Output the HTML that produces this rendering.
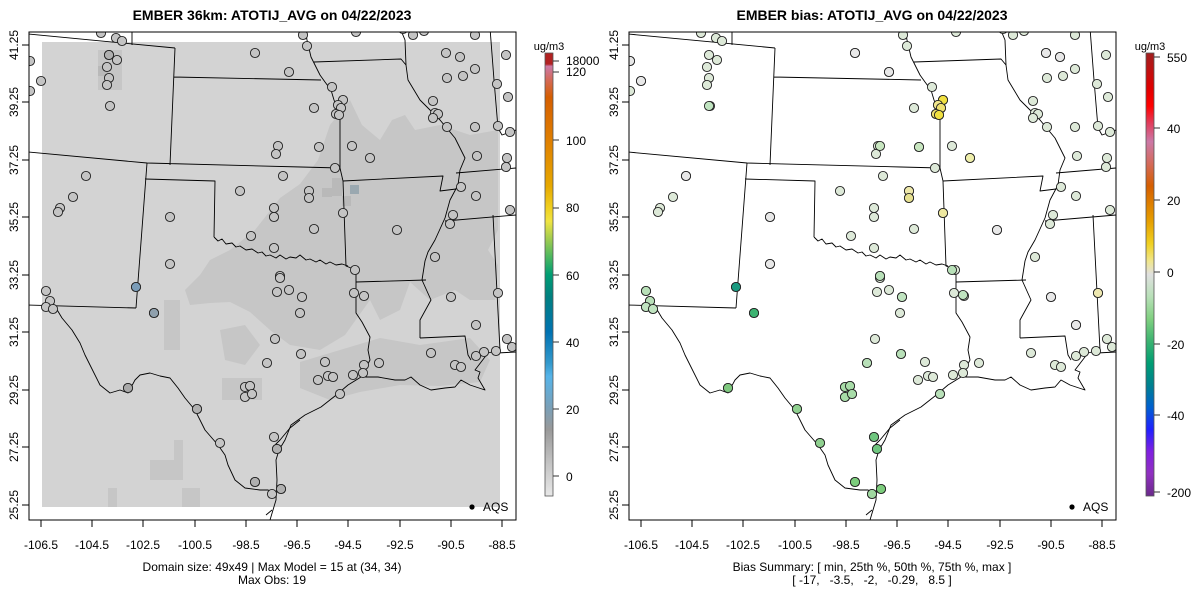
<!DOCTYPE html>
<html><head><meta charset="utf-8"><style>
html,body{margin:0;padding:0;background:#fff}
svg{display:block;font-family:"Liberation Sans",sans-serif}
circle{r:4.6px}
circle.dot{r:2.6px}
</style></head><body>
<svg width="1200" height="600" viewBox="0 0 1200 600" xmlns="http://www.w3.org/2000/svg">
<defs>
<linearGradient id="cb1" x1="0" y1="0" x2="0" y2="1">
<stop offset="0" stop-color="#b22222"/><stop offset="0.025" stop-color="#b22222"/>
<stop offset="0.03" stop-color="#cc79a7"/><stop offset="0.06" stop-color="#d46a5a"/>
<stop offset="0.1" stop-color="#d55e00"/><stop offset="0.2" stop-color="#e08000"/>
<stop offset="0.3" stop-color="#e6a800"/><stop offset="0.35" stop-color="#f0d020"/>
<stop offset="0.38" stop-color="#f0e442"/><stop offset="0.42" stop-color="#a0cc50"/>
<stop offset="0.46" stop-color="#4db860"/><stop offset="0.5" stop-color="#009e73"/>
<stop offset="0.55" stop-color="#008080"/><stop offset="0.63" stop-color="#0072b2"/>
<stop offset="0.7" stop-color="#3399cc"/><stop offset="0.73" stop-color="#56b4e9"/>
<stop offset="0.8" stop-color="#7aa0b8"/><stop offset="0.85" stop-color="#999999"/>
<stop offset="0.92" stop-color="#c0c0c0"/><stop offset="1" stop-color="#e8e8e8"/>
</linearGradient>
<linearGradient id="cb2" x1="0" y1="0" x2="0" y2="1">
<stop offset="0" stop-color="#a02020"/><stop offset="0.08" stop-color="#e00000"/>
<stop offset="0.12" stop-color="#ff0000"/><stop offset="0.16" stop-color="#e04060"/>
<stop offset="0.2" stop-color="#cc79a7"/><stop offset="0.25" stop-color="#d46a5a"/>
<stop offset="0.3" stop-color="#d55e00"/><stop offset="0.38" stop-color="#e69f00"/>
<stop offset="0.43" stop-color="#f0d020"/><stop offset="0.47" stop-color="#f0e68c"/>
<stop offset="0.5" stop-color="#e0e0e0"/><stop offset="0.55" stop-color="#b8e0b8"/>
<stop offset="0.6" stop-color="#80d080"/><stop offset="0.65" stop-color="#3cb371"/>
<stop offset="0.7" stop-color="#009e73"/><stop offset="0.75" stop-color="#008090"/>
<stop offset="0.8" stop-color="#0060d0"/><stop offset="0.85" stop-color="#2020ff"/>
<stop offset="0.9" stop-color="#8020e0"/><stop offset="0.95" stop-color="#9030c0"/>
<stop offset="1" stop-color="#6a2a8a"/>
</linearGradient>
<clipPath id="clipL"><rect x="29" y="32" width="487" height="488"/></clipPath>
<g id="borders" fill="none" stroke="#000" stroke-width="0.9" stroke-linejoin="round">
<path d="M28,34 L175,48 M132,28 L132,45 M175,48 L170,165 M174,77 L321,80 M28,152 L147,163 L301,167 L340,168"/>
<path d="M147,163 L136,308 M28,305 L136,308 M145,179 L215,181 L214,237"/>
<path d="M214,237 L218,241 L222,239 L226,244 L232,243 L236,247 L240,246 L246,250 L252,249 L258,253 L262,252 L266,256 L270,255 L276,258 L280,255 L286,259 L290,257 L296,258 L300,255 L306,260 L310,259 L316,262 L320,260 L326,264 L330,262 L336,265 L342,264 L348,266"/>
<path d="M340,168 L343,181 L346,266 L356,270 L356,313 L362,322 L370,337 L368,350 L370,360 L361,377"/>
<path d="M305,28 L307,40 L311,57 L320,75 L325,82 L331,90 L334,100 L338,110 L340,118 L340,168"/>
<path d="M314,62 L401,59 L406,65 M343,181 L443,176 L440,191 L456,189"/>
<path d="M400,28 L405,40 L406,65 L408,80 L420,100 L428,108 L440,120 L455,138 L465,158 L460,170 L458,185 L450,200 L445,218 L435,240 L428,252 L425,261 L422,280 L431,300 L420,320 L420,338"/>
<path d="M356,282 L426,280 M420,338 L465,336 L468,355 L471,360 M445,221 L516,215 M456,173 L516,168 M493,215 L500,350 M497,353 L516,352"/>
<path d="M490,28 L494,80 L498,128 L502,135 L516,130"/>
<path d="M53,303 L62,318 L72,330 L80,343 L85,355 L90,365 L100,385 L110,393 L120,390 L128,393 L135,380 L140,375 L150,373 L160,376 L170,378 L178,388 L185,398 L195,410 L205,430 L218,445 L225,455 L228,465 L235,480 L245,488 L260,490 L268,490 L275,492"/>
<path d="M270,520 L276,500 L277,480 L276,460 L279,450 L285,440 L291,425 L305,415 L321,407 L335,396 L348,385 L361,377 L378,377 L395,380 L405,380 L411,377 L420,385 L431,390 L445,388 L455,387 L461,380 L470,385 L485,390 L478,378 L480,372 L475,370 L488,353 L500,350"/>
<path d="M273,447 L280,440 L290,428 L300,420 M266,515 L272,510"/>
</g>
<g id="stations" stroke="#222" stroke-width="0.9">
<circle cx="101" cy="33" r="5"/><circle cx="116" cy="38" r="5"/><circle cx="122" cy="41" r="5"/><circle cx="109" cy="55" r="5"/><circle cx="117" cy="60" r="5"/><circle cx="107" cy="67" r="5"/><circle cx="109" cy="78" r="5"/><circle cx="107" cy="85" r="5"/><circle cx="110" cy="106" r="5"/><circle cx="41" cy="81" r="5"/><circle cx="30" cy="61" r="5"/><circle cx="30" cy="91" r="5"/>
<circle cx="255" cy="53" r="5"/><circle cx="289" cy="72" r="5"/><circle cx="303" cy="35" r="5"/><circle cx="307" cy="46" r="5"/><circle cx="332" cy="87" r="5"/><circle cx="343" cy="100" r="5"/><circle cx="338" cy="105" r="5"/><circle cx="341" cy="108" r="5"/><circle cx="336" cy="114" r="5"/><circle cx="339" cy="115" r="5"/><circle cx="314" cy="108" r="5"/>
<circle cx="356" cy="32" r="5"/><circle cx="403" cy="29" r="5"/><circle cx="413" cy="35" r="5"/><circle cx="424" cy="31" r="5"/><circle cx="475" cy="35" r="5"/><circle cx="446" cy="53" r="5"/><circle cx="460" cy="57" r="5"/><circle cx="475" cy="69" r="5"/><circle cx="447" cy="78" r="5"/><circle cx="463" cy="76" r="5"/><circle cx="506" cy="55" r="5"/><circle cx="497" cy="84" r="5"/><circle cx="508" cy="97" r="5"/>
<circle cx="433" cy="101" r="5"/><circle cx="435" cy="113" r="5"/><circle cx="438" cy="114" r="5"/><circle cx="433" cy="118" r="5"/><circle cx="447" cy="127" r="5"/><circle cx="475" cy="127" r="5"/><circle cx="498" cy="126" r="5"/><circle cx="510" cy="132" r="5"/><circle cx="507" cy="158" r="5"/><circle cx="506" cy="167" r="5"/><circle cx="477" cy="156" r="5"/><circle cx="461" cy="187" r="5"/><circle cx="476" cy="196" r="5"/><circle cx="453" cy="215" r="5"/><circle cx="450" cy="224" r="5"/><circle cx="510" cy="210" r="5"/><circle cx="435" cy="257" r="5"/>
<circle cx="352" cy="146" r="5"/><circle cx="370" cy="158" r="5"/><circle cx="319" cy="147" r="5"/><circle cx="278" cy="146" r="5"/><circle cx="276" cy="154" r="5"/><circle cx="335" cy="168" r="5"/><circle cx="283" cy="176" r="5"/><circle cx="240" cy="191" r="5"/><circle cx="309" cy="191" r="5"/><circle cx="309" cy="198" r="5"/><circle cx="274" cy="208" r="5"/><circle cx="274" cy="217" r="5"/><circle cx="343" cy="213" r="5"/><circle cx="314" cy="229" r="5"/><circle cx="251" cy="236" r="5"/><circle cx="274" cy="248" r="5"/><circle cx="355" cy="270" r="5"/><circle cx="280" cy="276" r="5"/>
<circle cx="86" cy="176" r="5"/><circle cx="73" cy="197" r="5"/><circle cx="60" cy="208" r="5"/><circle cx="58" cy="212" r="5"/><circle cx="170" cy="217" r="5"/><circle cx="170" cy="264" r="5"/><circle cx="397" cy="230" r="5"/>
<circle cx="451" cy="297" r="5"/><circle cx="498" cy="293" r="5"/><circle cx="476" cy="325" r="5"/><circle cx="507" cy="339" r="5"/><circle cx="512" cy="347" r="5"/><circle cx="496" cy="351" r="5"/><circle cx="484" cy="352" r="5"/><circle cx="476" cy="356" r="5"/><circle cx="455" cy="365" r="5"/><circle cx="461" cy="367" r="5"/><circle cx="431" cy="353" r="5"/>
<circle cx="354" cy="293" r="5"/><circle cx="364" cy="296" r="5"/><circle cx="280" cy="278" r="5"/><circle cx="277" cy="292" r="5"/><circle cx="289" cy="290" r="5"/><circle cx="302" cy="297" r="5"/><circle cx="300" cy="313" r="5"/><circle cx="275" cy="339" r="5"/><circle cx="267" cy="363" r="5"/><circle cx="301" cy="354" r="5"/><circle cx="325" cy="362" r="5"/><circle cx="364" cy="365" r="5"/><circle cx="379" cy="363" r="5"/><circle cx="353" cy="375" r="5"/><circle cx="363" cy="373" r="5"/><circle cx="318" cy="380" r="5"/><circle cx="328" cy="376" r="5"/><circle cx="333" cy="377" r="5"/><circle cx="340" cy="394" r="5"/>
<circle cx="245" cy="387" r="5"/><circle cx="250" cy="386" r="5"/><circle cx="245" cy="397" r="5"/><circle cx="252" cy="394" r="5"/>
<circle cx="46" cy="291" r="5"/><circle cx="50" cy="301" r="5"/><circle cx="46" cy="307" r="5"/><circle cx="53" cy="309" r="5"/><circle cx="136" cy="287" r="5"/><circle cx="154" cy="313" r="5"/><circle cx="128" cy="388" r="5"/><circle cx="197" cy="409" r="5"/><circle cx="220" cy="443" r="5"/><circle cx="255" cy="482" r="5"/><circle cx="272" cy="494" r="5"/><circle cx="281" cy="489" r="5"/><circle cx="274" cy="437" r="5"/><circle cx="277" cy="449" r="5"/>
</g>
</defs>

<!-- LEFT PANEL -->
<text x="272" y="20" text-anchor="middle" font-size="14" font-weight="bold">EMBER 36km: ATOTIJ_AVG on 04/22/2023</text>
<g clip-path="url(#clipL)">
<rect x="42" y="42" width="458" height="465" fill="#d3d3d3"/>
<g fill="#c6c6c6">
<path d="M255,230 L280,198 L300,184 L318,160 L330,125 L350,100 L362,125 L380,140 L392,120 L405,115 L415,130 L440,125 L470,135 L498,130 L498,230 L488,250 L498,265 L495,300 L470,300 L455,290 L430,300 L410,282 L400,310 L380,320 L370,300 L345,335 L320,350 L290,345 L270,330 L250,312 L230,302 L210,303 L190,305 L185,290 L200,275 L210,260 L230,250 Z"/>
<path d="M300,362 L340,350 L380,338 L420,345 L470,338 L490,360 L480,382 L440,386 L400,385 L360,392 L330,400 L300,388 Z"/>
<path d="M220,330 L245,325 L260,345 L245,365 L225,360 Z"/>
<path d="M98,50 L122,50 L122,90 L98,90 Z"/>
<path d="M222,378 L262,378 L262,400 L222,400 Z"/>
<path d="M174,440 L183,440 L183,480 L150,480 L150,460 L174,460 Z"/>
<path d="M108,488 L117,488 L117,507 L108,507 Z M182,488 L200,488 L200,507 L182,507 Z"/>
<path d="M164,300 L180,300 L180,350 L164,350 Z"/>
</g>
<g fill="#b9b9b9"><rect x="332" y="178" width="10" height="18"/><rect x="322" y="188" width="10" height="9"/><rect x="342" y="196" width="9" height="10"/><rect x="98" y="66" width="10" height="10"/></g>
<rect x="350" y="185" width="9" height="9" fill="#9aa8b0"/>
<use href="#borders"/>
<use href="#stations" fill="#c4c4c4"/>
<g stroke="#222" stroke-width="0.9">
<circle cx="136" cy="287" r="5" fill="#7a9cb8"/><circle cx="154" cy="313" r="5" fill="#8fa0ad"/>
<circle cx="128" cy="388" r="5" fill="#a8a8a8"/><circle cx="197" cy="409" r="5" fill="#b0b0b0"/><circle cx="255" cy="482" r="5" fill="#b0b0b0"/><circle cx="281" cy="489" r="5" fill="#b0b0b0"/><circle cx="277" cy="449" r="5" fill="#b0b0b0"/><circle cx="109" cy="55" r="5" fill="#b0b0b0"/>
</g>
</g>
<rect x="29" y="32" width="487" height="488" fill="none" stroke="#000" stroke-width="1"/>
<circle class="dot" cx="472" cy="507" r="2.6" fill="#000"/><text x="483" y="511" font-size="12">AQS</text>
<g font-size="12" text-anchor="middle">
<g stroke="#000"><path d="M41,520V527M92,520V527M143,520V527M195,520V527M246,520V527M297,520V527M348,520V527M400,520V527M451,520V527M502,520V527"/>
<path d="M29,45H22M29,102H22M29,160H22M29,217H22M29,275H22M29,332H22M29,390H22M29,447H22M29,505H22"/></g>
<text x="41" y="549">-106.5</text><text x="92" y="549">-104.5</text><text x="143" y="549">-102.5</text><text x="195" y="549">-100.5</text><text x="246" y="549">-98.5</text><text x="297" y="549">-96.5</text><text x="348" y="549">-94.5</text><text x="400" y="549">-92.5</text><text x="451" y="549">-90.5</text><text x="502" y="549">-88.5</text>
<g transform="translate(14,0)">
<text transform="translate(0,45) rotate(-90)" y="4">41.25</text><text transform="translate(0,102) rotate(-90)" y="4">39.25</text><text transform="translate(0,160) rotate(-90)" y="4">37.25</text><text transform="translate(0,217) rotate(-90)" y="4">35.25</text><text transform="translate(0,275) rotate(-90)" y="4">33.25</text><text transform="translate(0,332) rotate(-90)" y="4">31.25</text><text transform="translate(0,390) rotate(-90)" y="4">29.25</text><text transform="translate(0,447) rotate(-90)" y="4">27.25</text><text transform="translate(0,505) rotate(-90)" y="4">25.25</text>
</g>
<text x="272" y="571">Domain size: 49x49 | Max Model = 15 at (34, 34)</text>
<text x="272" y="584">Max Obs: 19</text>
</g>
<!-- left colorbar -->
<rect x="545" y="53" width="8" height="443" fill="url(#cb1)" stroke="#555" stroke-width="0.8"/>
<text x="549" y="50" font-size="11" text-anchor="middle">ug/m3</text>
<g stroke="#333"><path d="M553,61H559M553,72H559M553,140H559M553,208H559M553,275H559M553,342H559M553,409H559M553,476H559"/></g>
<g font-size="12"><text x="566" y="65">18000</text><text x="566" y="76">120</text><text x="566" y="145">100</text><text x="566" y="212">80</text><text x="566" y="280">60</text><text x="566" y="347">40</text><text x="566" y="414">20</text><text x="566" y="481">0</text></g>

<!-- RIGHT PANEL -->
<text x="872" y="20" text-anchor="middle" font-size="14" font-weight="bold">EMBER bias: ATOTIJ_AVG on 04/22/2023</text>
<g transform="translate(600,0)">
<g clip-path="url(#clipL)">
<use href="#borders"/>
<use href="#stations" fill="#dde9d8"/>
<g stroke="#222" stroke-width="0.9">
<circle cx="136" cy="287" r="5" fill="#1a9a80"/><circle cx="154" cy="313" r="5" fill="#3cb371"/>
<circle cx="128" cy="388" r="5" fill="#7fc97f"/><circle cx="197" cy="409" r="5" fill="#8fd08f"/><circle cx="220" cy="443" r="5" fill="#8fd08f"/><circle cx="255" cy="482" r="5" fill="#7ccc7c"/><circle cx="281" cy="489" r="5" fill="#7ccc7c"/><circle cx="272" cy="494" r="5" fill="#a0d8a0"/><circle cx="274" cy="437" r="5" fill="#6fc67f"/><circle cx="277" cy="449" r="5" fill="#6fc67f"/>
<circle cx="245" cy="387" r="5" fill="#a8dca8"/><circle cx="250" cy="386" r="5" fill="#a8dca8"/><circle cx="245" cy="397" r="5" fill="#a8dca8"/><circle cx="252" cy="394" r="5" fill="#a8dca8"/>
<circle cx="46" cy="291" r="5" fill="#b8e0b8"/><circle cx="50" cy="301" r="5" fill="#b8e0b8"/><circle cx="46" cy="307" r="5" fill="#c0e4c0"/><circle cx="53" cy="309" r="5" fill="#c0e4c0"/>
<circle cx="343" cy="100" r="5" fill="#f0e040"/><circle cx="338" cy="105" r="5" fill="#f0e68c"/><circle cx="341" cy="108" r="5" fill="#eee070"/><circle cx="336" cy="114" r="5" fill="#eee070"/><circle cx="339" cy="115" r="5" fill="#f0e040"/>
<circle cx="370" cy="158" r="5" fill="#eeeeaa"/><circle cx="309" cy="191" r="5" fill="#eee8aa"/><circle cx="309" cy="198" r="5" fill="#e6e090"/><circle cx="343" cy="213" r="5" fill="#eee8a0"/><circle cx="498" cy="293" r="5" fill="#eee8b0"/>
<circle cx="109" cy="106" r="5" fill="#c0e4c0"/><circle cx="319" cy="147" r="5" fill="#c8e6c0"/><circle cx="280" cy="146" r="5" fill="#c8e6c0"/><circle cx="352" cy="270" r="5" fill="#b8e0b8"/><circle cx="280" cy="276" r="5" fill="#b8e0b8"/><circle cx="302" cy="297" r="5" fill="#c0e4c0"/><circle cx="363" cy="295" r="5" fill="#c0e4c0"/><circle cx="301" cy="354" r="5" fill="#b8e0b8"/><circle cx="267" cy="363" r="5" fill="#b8e0b8"/><circle cx="340" cy="394" r="5" fill="#b8e0b8"/>
<circle cx="30" cy="61" r="5" fill="#e8e8e8"/><circle cx="41" cy="81" r="5" fill="#e8e8e8"/><circle cx="86" cy="176" r="5" fill="#e8e8e8"/><circle cx="170" cy="217" r="5" fill="#e8e8e8"/><circle cx="170" cy="264" r="5" fill="#e8e8e8"/><circle cx="255" cy="53" r="5" fill="#e8e8e8"/><circle cx="289" cy="72" r="5" fill="#e8e8e8"/><circle cx="446" cy="53" r="5" fill="#e8e8e8"/><circle cx="460" cy="57" r="5" fill="#e8e8e8"/><circle cx="397" cy="230" r="5" fill="#e8e8e8"/><circle cx="476" cy="325" r="5" fill="#e8e8e8"/><circle cx="451" cy="297" r="5" fill="#e8e8e8"/>
</g>
</g>
<rect x="29" y="32" width="487" height="488" fill="none" stroke="#000" stroke-width="1"/>
<circle class="dot" cx="472" cy="507" r="2.6" fill="#000"/><text x="483" y="511" font-size="12">AQS</text>
<g font-size="12" text-anchor="middle">
<g stroke="#000"><path d="M41,520V527M92,520V527M143,520V527M195,520V527M246,520V527M297,520V527M348,520V527M400,520V527M451,520V527M502,520V527"/>
<path d="M29,45H22M29,102H22M29,160H22M29,217H22M29,275H22M29,332H22M29,390H22M29,447H22M29,505H22"/></g>
<text x="41" y="549">-106.5</text><text x="92" y="549">-104.5</text><text x="143" y="549">-102.5</text><text x="195" y="549">-100.5</text><text x="246" y="549">-98.5</text><text x="297" y="549">-96.5</text><text x="348" y="549">-94.5</text><text x="400" y="549">-92.5</text><text x="451" y="549">-90.5</text><text x="502" y="549">-88.5</text>
<g transform="translate(14,0)">
<text transform="translate(0,45) rotate(-90)" y="4">41.25</text><text transform="translate(0,102) rotate(-90)" y="4">39.25</text><text transform="translate(0,160) rotate(-90)" y="4">37.25</text><text transform="translate(0,217) rotate(-90)" y="4">35.25</text><text transform="translate(0,275) rotate(-90)" y="4">33.25</text><text transform="translate(0,332) rotate(-90)" y="4">31.25</text><text transform="translate(0,390) rotate(-90)" y="4">29.25</text><text transform="translate(0,447) rotate(-90)" y="4">27.25</text><text transform="translate(0,505) rotate(-90)" y="4">25.25</text>
</g>
<text x="272" y="571">Bias Summary: [ min, 25th %, 50th %, 75th %, max ]</text>
<text x="272" y="584" xml:space="preserve">[ -17,   -3.5,   -2,   -0.29,   8.5 ]</text>
</g>
</g>
<!-- right colorbar -->
<rect x="1146" y="53" width="8" height="443" fill="url(#cb2)" stroke="#555" stroke-width="0.8"/>
<text x="1150" y="50" font-size="11" text-anchor="middle">ug/m3</text>
<g stroke="#333"><path d="M1154,57H1160M1154,128H1160M1154,200H1160M1154,272H1160M1154,344H1160M1154,415H1160M1154,492H1160"/></g>
<g font-size="12"><text x="1167" y="62">550</text><text x="1167" y="133">40</text><text x="1167" y="205">20</text><text x="1167" y="277">0</text><text x="1167" y="349">-20</text><text x="1167" y="420">-40</text><text x="1167" y="497">-200</text></g>
</svg>
</body></html>
